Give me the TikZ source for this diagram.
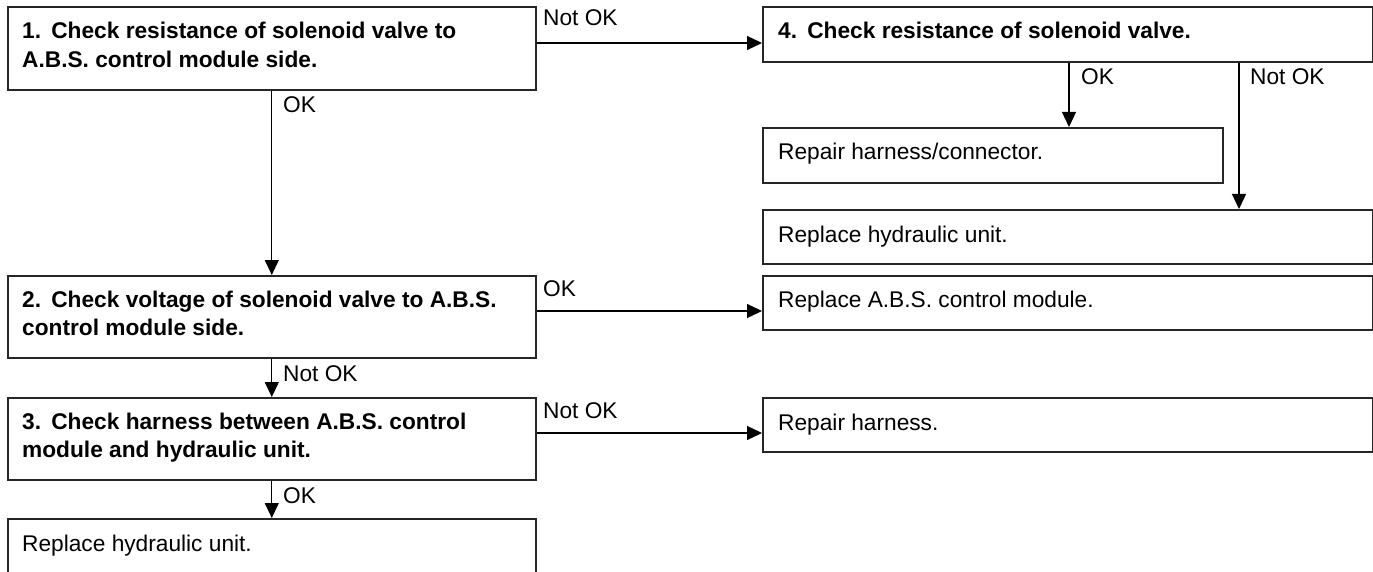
\documentclass[tikz,border=0pt]{standalone}
\usepackage{fontspec}
\setmainfont{Liberation Sans}
\usetikzlibrary{arrows.meta}
\begin{document}
\begin{tikzpicture}[x=1pt,y=-1pt,
  box/.style={draw=black!85, line width=1.6pt, rectangle, inner sep=0pt, anchor=north west},
  txt/.style={anchor=base west, inner sep=0pt, font=\fontsize{22.7}{28.5}\selectfont, align=left},
  btxt/.style={anchor=base west, inner sep=0pt, font=\fontsize{22.7}{28.5}\selectfont\bfseries, align=left},
  lbl/.style={anchor=base west, inner sep=0pt, font=\fontsize{22.7}{28.5}\selectfont},
  arr/.style={line width=1.2pt, -{Triangle[length=15pt,width=14pt]}}]
\useasboundingbox (0,0) rectangle (1373,572);
\clip (0,0) rectangle (1373,572);
% boxes
\node[box, minimum width=528pt, minimum height=83pt] (b1) at (7,6) {};
\node[box, minimum width=610pt, minimum height=55pt] (b4) at (762,6) {};
\node[box, minimum width=460pt, minimum height=55pt] (rhc) at (762,127) {};
\node[box, minimum width=610pt, minimum height=54pt] (rhu) at (762,209) {};
\node[box, minimum width=528pt, minimum height=82pt] (b2) at (7,275) {};
\node[box, minimum width=610pt, minimum height=54pt] (abs) at (762,275) {};
\node[box, minimum width=528pt, minimum height=82pt] (b3) at (7,397) {};
\node[box, minimum width=610pt, minimum height=54pt] (rh) at (762,397) {};
\node[box, minimum width=528pt, minimum height=80pt] (b5) at (7,518) {};
% texts (multi-line nodes: base anchor = last line)
\node[btxt] (t1) at ([xshift=15pt,yshift=-61.5pt]b1.north west) {1.\hspace{0.45em}Check resistance of solenoid valve to\\A.B.S. control module side.};
\node[btxt] (t4) at ([xshift=16pt,yshift=-33pt]b4.north west) {4.\hspace{0.45em}Check resistance of solenoid valve.};
\node[txt] (trhc) at ([xshift=16pt,yshift=-33pt]rhc.north west) {Repair harness/connector.};
\node[txt] (trhu) at ([xshift=16pt,yshift=-33pt]rhu.north west) {Replace hydraulic unit.};
\node[btxt] (t2) at ([xshift=15pt,yshift=-60.5pt]b2.north west) {2.\hspace{0.45em}Check voltage of solenoid valve to A.B.S.\\control module side.};
\node[txt] (tabs) at ([xshift=16pt,yshift=-32pt]abs.north west) {Replace A.B.S. control module.};
\node[btxt] (t3) at ([xshift=15pt,yshift=-60.5pt]b3.north west) {3.\hspace{0.45em}Check harness between A.B.S. control\\module and hydraulic unit.};
\node[txt] (trh) at ([xshift=16pt,yshift=-33pt]rh.north west) {Repair harness.};
\node[txt] (t5) at ([xshift=15pt,yshift=-33pt]b5.north west) {Replace hydraulic unit.};
% labels
\node[lbl] (l14) at (543,26) {Not OK};
\node[lbl] (l12) at (283,113) {OK};
\node[lbl] (l4a) at (1081,85) {OK};
\node[lbl] (l4b) at (1250,85) {Not OK};
\node[lbl] (l2a) at (543,296) {OK};
\node[lbl] (l23) at (283,381) {Not OK};
\node[lbl] (l3a) at (543,418) {Not OK};
\node[lbl] (l35) at (283,503) {OK};
% connectors
\draw[arr] (b1.east |- 0,43) -- (b4.west |- 0,43);
\draw[arr] (b1.south) -- (b2.north);
\draw[arr] (b4.south -| 1069,0) -- (rhc.north -| 1069,0);
\draw[arr] (b4.south -| 1239,0) -- (rhu.north -| 1239,0);
\draw[arr] (b2.east |- 0,311) -- (abs.west |- 0,311);
\draw[arr] (b2.south) -- (b3.north);
\draw[arr] (b3.east |- 0,433) -- (rh.west |- 0,433);
\draw[arr] (b3.south) -- (b5.north);
\end{tikzpicture}
\end{document}
